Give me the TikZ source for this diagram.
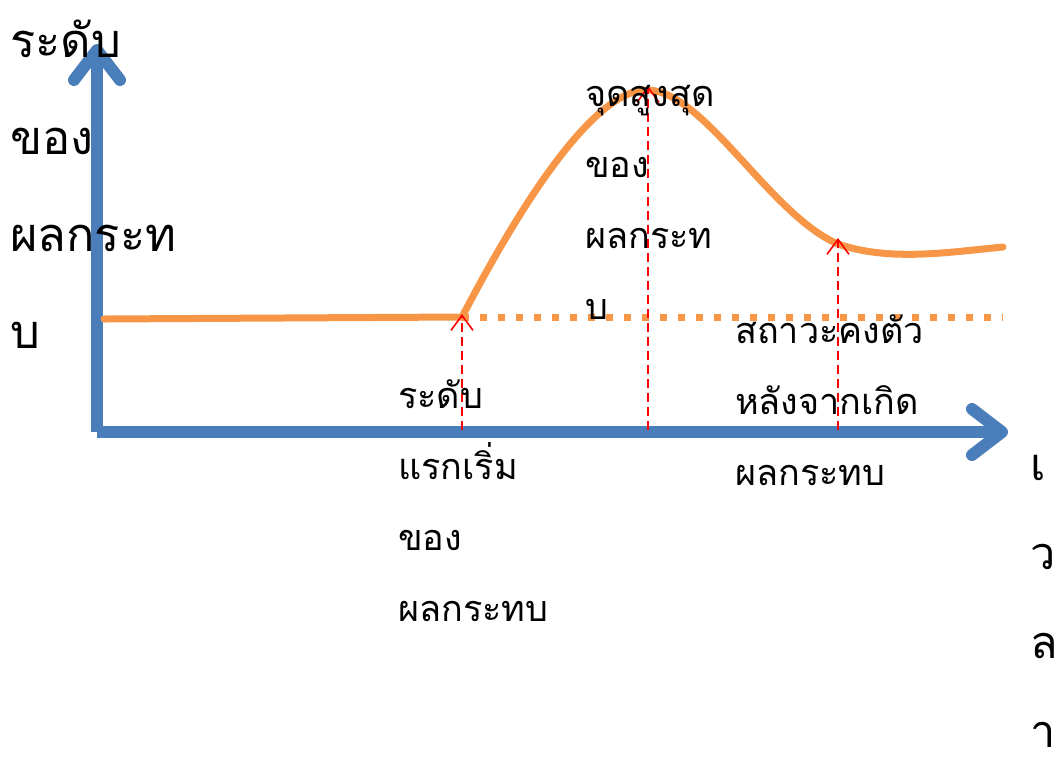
\documentclass[tikz,border=0pt]{standalone}
\usepackage{fontspec}
\newfontfamily\thaifont[Script=Thai]{Loma}
\usetikzlibrary{arrows.meta}
\definecolor{axisblue}{HTML}{4A7EBB}
\definecolor{impactorange}{HTML}{F79646}

\begin{document}
\begin{tikzpicture}[
        x=1pt,y=-1pt,
        axis/.style={line width=12pt,draw=axisblue,
          -{Straight Barb[length=30pt,width=46pt,line cap=round,line join=round]}},
        impact/.style={line width=7pt,draw=impactorange},
        steady/.style={line width=7pt,draw=impactorange,dash pattern=on 7pt off 11pt},
        marker/.style={draw=red,line width=1.6pt,dash pattern=on 9pt off 5pt,
          -{Straight Barb[length=15pt,width=22pt]}},
        note/.style={anchor=north west,inner sep=0pt,align=left,
          font=\thaifont\fontsize{36}{71}\selectfont},
        axislabel/.style={anchor=north west,inner sep=0pt,align=left,
          font=\thaifont\fontsize{47}{97}\selectfont},
        timelabel/.style={anchor=north west,inner sep=0pt,align=left,
          font=\thaifont\fontsize{45}{89}\selectfont}
      ]
        \useasboundingbox (0,0) rectangle (1061,780);

        \coordinate (origin) at (97,432);
        \coordinate (ytip) at (97,44);
        \coordinate (xtip) at (1008,432);
        \coordinate (start) at (104,319);
        \coordinate (onset) at (462,317);
        \coordinate (peak) at (648,90);
        \coordinate (settle) at (838,244);
        \coordinate (finish) at (1003,247);
        \coordinate (levelend) at (1003,317);

        \draw[axis] (origin) -- (ytip);
        \draw[axis] (origin) -- (xtip);

        \draw[impact,line cap=round] (start) -- (onset)
          .. controls (510,225) and (590,88) .. (peak)
          .. controls (705,92) and (770,215) .. (settle)
          .. controls (890,262) and (950,252) .. (finish);
        \draw[steady] (onset) -- (levelend);

        \coordinate (onsetbase) at (462,430);
        \coordinate (peakbase) at (648,430);
        \coordinate (settlebase) at (838,430);
        \draw[marker] (onsetbase) -- ([yshift=3pt]onset);
        \draw[marker] (peakbase) -- ([yshift=4pt]peak);
        \draw[marker] (settlebase) -- ([yshift=6pt]settle);

        \node[axislabel] (level) at (10,20) {ระดับ\\ของ\\ผลกระท\\บ};
        \node[timelabel] (time) at (1030,455) {เ\\ว\\ล\\า};
        \node[note] (firstlevel) at (398,380) {ระดับ\\แรกเริ่ม\\ของ\\ผลกระทบ};
        \node[note] (toplevel) at (585,85) {จุดสูงสุด\\ของ\\ผลกระท\\บ};
        \node[note] (steadylevel) at (735,315) {สถาวะคงตัว\\หลังจากเกิด\\ผลกระทบ};
      \end{tikzpicture}
\end{document}
